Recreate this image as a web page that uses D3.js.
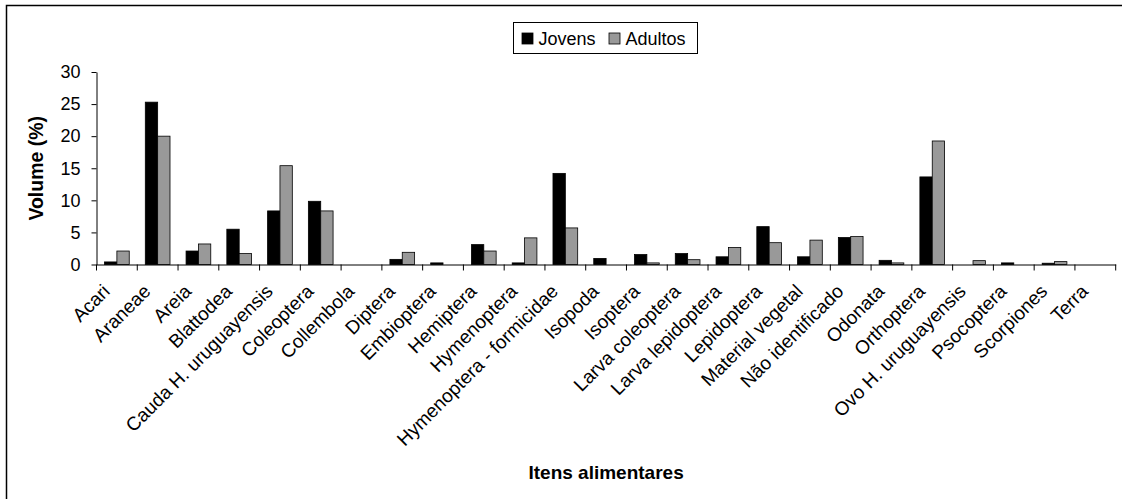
<!DOCTYPE html>
<html>
<head>
<meta charset="utf-8">
<script src="https://cdn.jsdelivr.net/npm/d3@7"></script>
<style>
  html, body { margin: 0; padding: 0; background: #fff; }
  svg { display: block; }
  text { font-family: Arial, "Liberation Sans", sans-serif; fill: #000; }
</style>
</head>
<body>
<svg id="chart" width="1122" height="499"></svg>
<script>
const categories = ["Acari","Araneae","Areia","Blattodea","Cauda H. uruguayensis","Coleoptera","Collembola","Diptera","Embioptera","Hemiptera","Hymenoptera","Hymenoptera - formicidae","Isopoda","Isoptera","Larva coleoptera","Larva lepidoptera","Lepidoptera","Material vegetal","Não identificado","Odonata","Orthoptera","Ovo H. uruguayensis","Psocoptera","Scorpiones","Terra"];
const series = ["Jovens","Adultos"];
const jovens  = [0.4, 25.3, 2.1, 5.5, 8.35, 9.85, 0, 0.8, 0.25, 3.1, 0.25, 14.2, 0.95, 1.55, 1.7, 1.2, 5.9, 1.2, 4.2, 0.65, 13.65, 0, 0.25, 0.2, 0];
const adultos = [2.1, 20.0, 3.2, 1.7, 15.4, 8.35, 0, 1.9, 0, 2.1, 4.15, 5.7, 0, 0.25, 0.75, 2.65, 3.4, 3.8, 4.35, 0.25, 19.25, 0.6, 0, 0.45, 0];
const yTicks = [0, 5, 10, 15, 20, 25, 30];
const colors = ["#000000", "#999999"];
const yTitle = "Volume (%)";
const xTitle = "Itens alimentares";

(function () {
const svg = d3.select("#chart");
const pL = 96.5, pR = 1115.7, pT = 72, pB = 264.5;
const FONT = "Arial, 'Liberation Sans', sans-serif";

// outer frame (clipped at right/bottom)
svg.append("rect").attr("x", 6.5).attr("y", 5.5).attr("width", 1200).attr("height", 600)
  .attr("fill", "none").attr("stroke", "#000").attr("stroke-width", 1.5);

const x0 = d3.scaleBand().domain(categories).range([pL, pR]).paddingInner(0).paddingOuter(0);
const x1 = d3.scaleBand().domain(series).range([0, x0.bandwidth()]).paddingInner(0).paddingOuter(0.65);
const y = d3.scaleLinear().domain([0, 30]).range([pB, pT]);

const data = categories.map((c, i) => ({cat: c, vals: [
  {s: "Jovens", v: jovens[i]}, {s: "Adultos", v: adultos[i]}]}));

const g = svg.append("g");
g.selectAll("g.grp").data(data).join("g").attr("class", "grp")
  .attr("transform", d => `translate(${x0(d.cat)},0)`)
  .selectAll("rect").data(d => d.vals.filter(e => e.v > 0)).join("rect")
  .attr("x", d => x1(d.s)).attr("width", x1.bandwidth())
  .attr("y", d => y(d.v)).attr("height", d => y(0) - y(d.v))
  .attr("fill", d => colors[series.indexOf(d.s)])
  .attr("stroke", "#000").attr("stroke-width", 0.8);

// y axis
const yAxis = svg.append("g").attr("transform", `translate(${pL},0)`)
  .call(d3.axisLeft(y).tickValues(yTicks).tickSize(5).tickSizeOuter(0).tickPadding(11).tickFormat(d3.format("d")));
yAxis.select(".domain").attr("stroke", "#000");
yAxis.selectAll(".tick line").attr("stroke", "#000");
yAxis.selectAll("text").attr("font-size", 18).attr("font-family", FONT);

// x axis with category labels
const xAxis = svg.append("g").attr("transform", `translate(0,${pB})`)
  .call(d3.axisBottom(x0).tickSize(0).tickSizeOuter(0));
xAxis.select(".domain").attr("stroke", "#000");
xAxis.selectAll(".tick text")
  .attr("font-size", 19).attr("font-family", FONT)
  .attr("text-anchor", "end")
  .attr("y", 0).attr("dy", 0)
  .attr("transform", "translate(-6,28) rotate(-45)");
// tick marks at category boundaries
const bounds = categories.map(c => x0(c)).concat([x0(categories[categories.length - 1]) + x0.bandwidth()]);
xAxis.selectAll("line.bnd").data(bounds).join("line").attr("class", "bnd")
  .attr("x1", d => d).attr("x2", d => d).attr("y1", 0).attr("y2", 6)
  .attr("stroke", "#000");

// axis titles
svg.append("text").attr("transform", `translate(43,${(pT + pB) / 2}) rotate(-90)`)
  .attr("text-anchor", "middle").attr("font-weight", "bold").attr("font-size", 19.5).text(yTitle);
svg.append("text").attr("x", (pL + pR) / 2).attr("y", 479)
  .attr("text-anchor", "middle").attr("font-weight", "bold").attr("font-size", 19).text(xTitle);

// legend
const lg = svg.append("g");
lg.append("rect").attr("x", 513.5).attr("y", 22.5).attr("width", 184).attr("height", 31)
  .attr("fill", "#fff").attr("stroke", "#000").attr("stroke-width", 1);
const lx = [522, 609];
series.forEach((s, i) => {
  lg.append("rect").attr("x", lx[i]).attr("y", 33).attr("width", 11).attr("height", 11)
    .attr("fill", colors[i]).attr("stroke", "#000").attr("stroke-width", 0.8);
  lg.append("text").attr("x", lx[i] + 16.5).attr("y", 45).attr("font-size", 18).text(s);
});
})();
</script>
</body>
</html>
